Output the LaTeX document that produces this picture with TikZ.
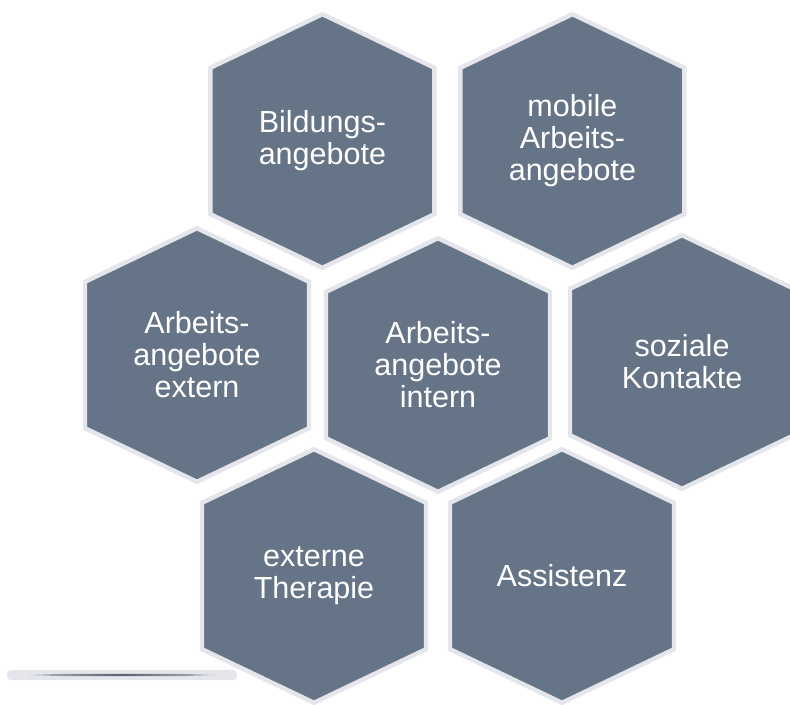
\documentclass[tikz,border=0pt]{standalone}
\usepackage{fontspec}
\setmainfont{Liberation Sans}
\usepackage{tikz}
\usetikzlibrary{calc}

\definecolor{cellfill}{RGB}{102,116,136}
\definecolor{cellrim}{RGB}{229,230,235}

\tikzset{
	cell/.style={fill=cellfill, draw=cellrim, line width=0.11cm, line join=miter},
	celltext/.style={text=white, align=center, font=\fontsize{21.7}{22.8}\selectfont}
}

% hexagon with pointed top, centred at #2, text node named #1
\newcommand{\hexcell}[3]{%
	\filldraw[cell] (#2) ++(0,3.17) -- ++(2.8,-1.34) -- ++(0,-3.66) -- ++(-2.8,-1.34) -- ++(-2.8,1.34) -- ++(0,3.66) -- cycle;
	\node[celltext] (#1) at (#2) {#3};
}

\begin{document}
\begin{tikzpicture}
	\useasboundingbox (0,0) rectangle (19.75,17.6);
	
	%top row
	\hexcell{bildung}{8.06,14.075}{Bildungs-\\angebote}
	\hexcell{mobil}{14.31,14.075}{mobile\\Arbeits-\\angebote}
	
	%middle row
	\hexcell{extern}{4.925,8.725}{Arbeits-\\angebote\\extern}
	\hexcell{intern}{10.95,8.475}{Arbeits-\\angebote\\intern}
	\hexcell{sozial}{17.05,8.55}{soziale\\Kontakte}
	
	%bottom row
	\hexcell{therapie}{7.85,3.2}{externe\\Therapie}
	\hexcell{assistenz}{14.05,3.2}{Assistenz}
	
	%bar bottom left
	\fill[cellrim, rounded corners=0.1cm] (0.175,0.6) rectangle (5.925,0.85);
	\shade[left color=cellrim!60!cellfill, right color=cellrim!60!cellfill, middle color=cellfill!85!black]
		(0.7,0.725) -- (1.6,0.755) -- (4.5,0.755) -- (5.4,0.725) -- (4.5,0.695) -- (1.6,0.695) -- cycle;
	
	%\draw[help lines] (0,0) grid (20,18);
\end{tikzpicture}
\end{document}
